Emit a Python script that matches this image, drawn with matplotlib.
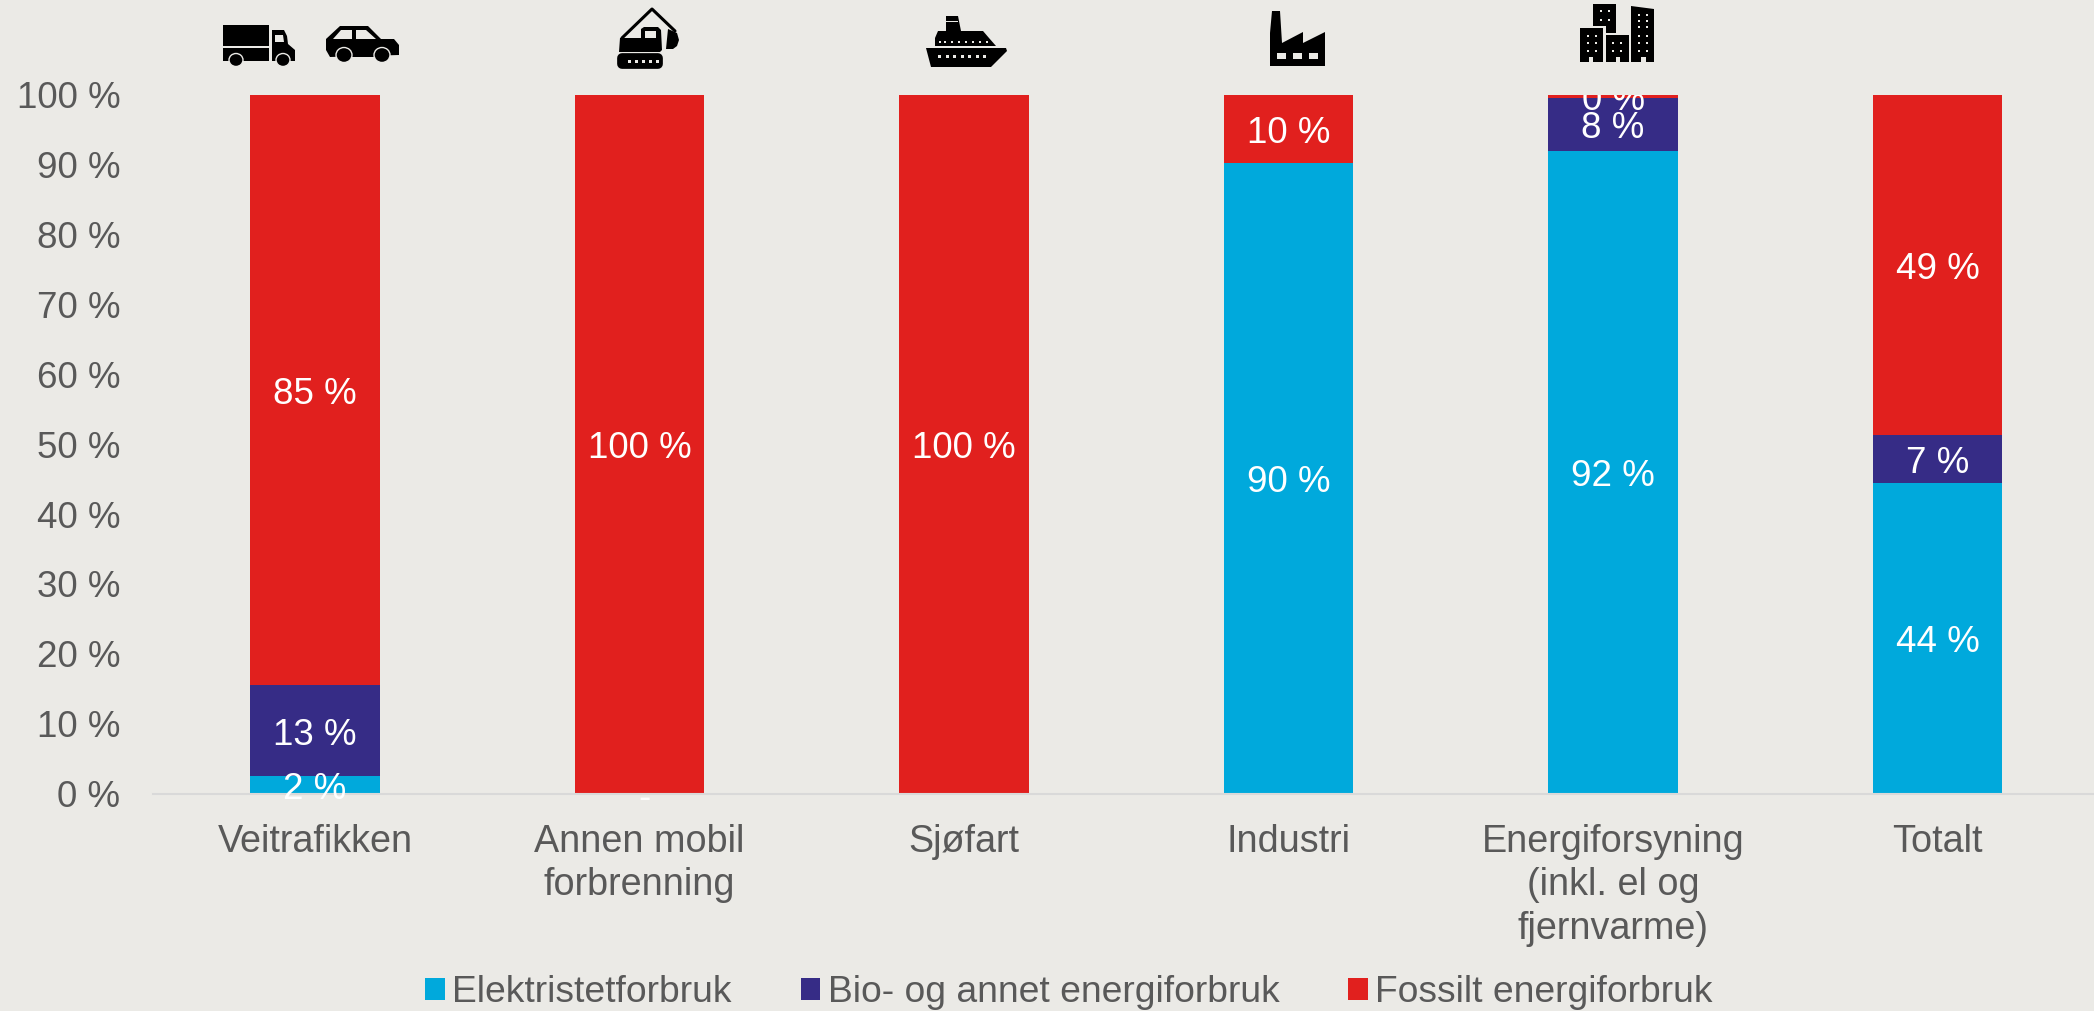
import matplotlib
matplotlib.use("Agg")
import matplotlib.pyplot as plt
from matplotlib.patches import Polygon, Ellipse, Rectangle, FancyBboxPatch

plt.rcParams['font.family'] = ['Liberation Sans', 'DejaVu Sans']

categories = ["Veitrafikken", "Annen mobil\nforbrenning", "Sjøfart", "Industri",
              "Energiforsyning\n(inkl. el og\nfjernvarme)", "Totalt"]
series_names = ["Elektristetforbruk", "Bio- og annet energiforbruk", "Fossilt energiforbruk"]
elektrisitet = [2.5, 0, 0, 90.3, 92.0, 44.5]
bio = [13.0, 0, 0, 0, 7.6, 6.8]
fossilt = [84.5, 100, 100, 9.7, 0.4, 48.7]
labels_el = ["2 %", "-", "", "90 %", "92 %", "44 %"]
labels_bio = ["13 %", "", "", "", "8 %", "7 %"]
labels_fos = ["85 %", "100 %", "100 %", "10 %", "0 %", "49 %"]
yticks = list(range(0, 101, 10))

BG = "#EBEAE6"
BLUE = "#00A9DC"
PURPLE = "#362C86"
RED = "#E1201E"
GREY = "#595959"
FS = 26.5

W, H = 2094, 1011
fig = plt.figure(figsize=(W / 100, H / 100), dpi=100, facecolor=BG)
ax = fig.add_axes([152.75 / W, (H - 793.5) / H, 1947 / W, 698.5 / H], facecolor=BG)

x = list(range(len(categories)))
bw = 0.4
bottom2 = [a + b for a, b in zip(elektrisitet, bio)]
b1 = ax.bar(x, elektrisitet, bw, color=BLUE, label=series_names[0], zorder=2)
b2 = ax.bar(x, bio, bw, bottom=elektrisitet, color=PURPLE, label=series_names[1], zorder=2)
b3 = ax.bar(x, fossilt, bw, bottom=bottom2, color=RED, label=series_names[2], zorder=2)

ax.set_xlim(-0.5, 5.5)
ax.set_ylim(0, 100)
for s in ("top", "right", "left"):
    ax.spines[s].set_visible(False)
ax.spines["bottom"].set_color("#D9D9D9")
ax.spines["bottom"].set_linewidth(1.5)
ax.set_yticks(yticks)
ax.set_yticklabels([f"{v} %" for v in yticks])
ax.set_xticks(x)
ax.set_xticklabels(categories, linespacing=1.26)
ax.tick_params(axis="y", length=0, pad=23.4, labelsize=FS, labelcolor=GREY)
ax.tick_params(axis="x", length=0, pad=22, labelsize=27.2, labelcolor=GREY)


def put_labels(bottoms, heights, labels):
    for xi, b, h, t in zip(x, bottoms, heights, labels):
        if not t:
            continue
        y = b + h / 2 - 0.08
        clip = t == "0 %"
        ax.text(xi + (0.015 if t == "-" else 0), y, t, ha="center", va="center_baseline",
                color="white", fontsize=FS, zorder=3, clip_on=clip)


put_labels([0] * 6, elektrisitet, labels_el)
put_labels(elektrisitet, bio, labels_bio)
put_labels(bottom2, fossilt, labels_fos)

leg = fig.legend(handles=[b1, b2, b3], labels=series_names, loc="center", ncol=3,
                 bbox_to_anchor=(1069 / W, 1 - 993 / H), frameon=False, fontsize=26.8,
                 labelcolor=GREY, handlelength=0.53, handleheight=0.53, handletextpad=0.2,
                 columnspacing=1.85, borderpad=0, borderaxespad=0)

# Decorative pictograms above the columns, in figure pixel coordinates
ov = fig.add_axes([0, 0, 1, 1], facecolor="none", zorder=5)
ov.set_xlim(0, W)
ov.set_ylim(H, 0)
ov.axis("off")


def poly(pts, c="black"):
    ov.add_patch(Polygon(pts, closed=True, fc=c, ec="none"))


def rect(x0, y0, x1, y1, c="black"):
    ov.add_patch(Rectangle((x0, y0), x1 - x0, y1 - y0, fc=c, ec="none"))


def wheel(cx, cy, rx, ry):
    ov.add_patch(Ellipse((cx, cy), 2 * rx, 2 * ry, fc="black", ec=BG, lw=1))


def dots(xs, ys, s=2.6, c=BG):
    for a in xs:
        for b in ys:
            rect(a, b, a + s, b + s, c)


# truck
rect(223, 25, 269, 46)
rect(223, 48, 269, 61)
poly([(272, 30), (284, 30), (287, 36), (288, 44), (295, 50), (295, 61), (272, 61)])
poly([(275, 35), (283, 35), (284, 42), (275, 42)], BG)
wheel(236, 60, 7, 6.5)
wheel(283, 60, 7, 6.5)
# car
poly([(340, 26), (368, 26), (381, 39), (394, 39), (399, 45), (399, 55), (330, 57),
      (326, 50), (326, 39)])
poly([(333, 39), (341, 30), (352, 30), (352, 39)], BG)
poly([(356, 30), (366, 30), (376, 39), (356, 39)], BG)
rect(340, 55, 386, 57)
wheel(344, 55, 8, 7.5)
wheel(382, 55, 8, 7.5)
# excavator
ov.plot([622, 652, 675], [38, 9, 31], color="black", lw=2.2, solid_capstyle="round")
poly([(620, 38), (641, 38), (641, 29), (644, 27), (658, 27), (661, 30), (662, 50), (660, 52),
      (619, 52)])
rect(645, 31, 656, 38, BG)
poly([(668, 29), (677, 33), (679, 40), (677, 46), (673, 49), (666, 49)])
ov.add_patch(FancyBboxPatch((622, 58), 36, 6, boxstyle="round,pad=0,rounding_size=0",
                            fc="black", ec="black", lw=7, joinstyle="round"))
dots([627.5, 634.5, 641.5, 648.5, 655.5], [59.5], s=3)
# ship
poly([(926, 48), (1006, 48), (1007, 51), (991, 67), (931, 67)])
poly([(935, 46), (935, 38), (938, 31), (946, 31), (946, 16), (958, 16), (961, 31), (983, 31),
      (989, 38), (996, 46)])
rect(946, 20.5, 958, 22, BG)
dots([939, 944, 951, 958, 965, 972, 979, 986], [41], s=1.5)
dots([938, 946, 953, 961, 968, 976, 983], [55], s=3)
# factory
poly([(1272, 11), (1280, 11), (1282, 43), (1303, 32), (1303, 43), (1325, 32), (1325, 66),
      (1270, 66), (1270, 33)])
for a in (1277, 1293, 1309):
    rect(a, 53, a + 9, 59, BG)
# city
poly([(1580, 28), (1603, 28), (1603, 62), (1593, 62), (1593, 57), (1589, 57), (1589, 62),
      (1580, 62)])
poly([(1593, 4), (1616, 4), (1616, 33), (1606, 33), (1606, 26), (1593, 26)])
poly([(1606, 35), (1629, 35), (1629, 62), (1620, 62), (1620, 57), (1616, 57), (1616, 62),
      (1606, 62)])
poly([(1631, 6), (1654, 9), (1654, 62), (1646, 62), (1646, 57), (1641, 57), (1641, 62),
      (1631, 62)])
dots([1587, 1595], [34.5, 42, 49.5], s=2)
dots([1600, 1608], [10, 19], s=2)
dots([1612, 1620], [42, 49.5], s=2)
dots([1638, 1646], [14, 20, 26, 35, 42, 49.5], s=2)

fig.savefig("out.png", dpi=100, facecolor=BG)
